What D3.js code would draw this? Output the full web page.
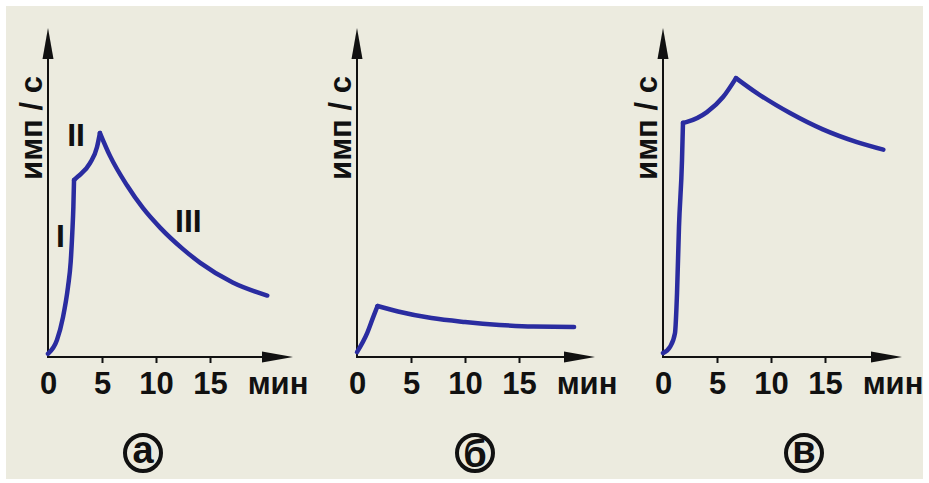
<!DOCTYPE html>
<html>
<head>
<meta charset="utf-8">
<script src="https://cdn.jsdelivr.net/npm/d3@7"></script>
<style>
  html, body { margin: 0; padding: 0; background: #fff; }
  text { font-family: "Liberation Sans", Arial, sans-serif; font-weight: bold; fill: #111; }
</style>
</head>
<body>
<div id="chart"></div>
<script>
// time in minutes, count rate in arbitrary units (0..100)
const riseA = [[0, 1], [0.83, 5.2], [1.39, 12.2], [1.85, 21.4], [2.1, 29], [2.25, 38], [2.35, 46], [2.41, 54.1]];
const climbA = [[2.41, 54.1], [2.78, 55.2], [3.89, 59.3], [4.54, 64.2], [4.81, 68.5]];
const decayA = [[4.81, 68.5], [5.74, 61.5], [7.31, 52.5], [8.8, 45.5], [10.4, 39.5], [12.5, 33.0], [14.1, 28.8], [17.1, 22.8], [20.3, 18.8]];

const riseB = [[0, 1.5], [0.94, 7.3], [1.5, 12.2], [1.9, 15.6]];
const decayB = [[1.9, 15.6], [3.8, 13.9], [6.9, 11.9], [10, 10.7], [13.2, 9.8], [16.3, 9.3], [20.1, 9.2]];

const riseC = [[0, 1.2], [0.65, 3.1], [1.11, 7.3], [1.3, 19.6], [1.48, 39.8], [1.76, 60.2], [1.85, 71.6]];
const climbC = [[1.85, 71.6], [2.22, 71.9], [4.07, 74.9], [5.56, 79.5], [6.76, 85.3]];
const decayC = [[6.76, 85.3], [8.7, 80.7], [11.76, 74.6], [14.8, 69.6], [17.96, 65.7], [20.4, 63.4]];

const xTicks = [0, 5, 10, 15];
const xUnit = "мин";
const yLabel = "имп / с";
const panelLetters = ["а", "б", "в"];
const phaseLabels = [["I", 1.16, 37.3], ["II", 2.6, 67.9], ["III", 13, 41.9]];

const curves = [[riseA, climbA, decayA], [riseB, decayB], [riseC, climbC, decayC]];

// layout
const width = 929, height = 483;
const panels = [
    { ox: 48, tip: 293, cx: 143 },
    { ox: 357, tip: 595, cx: 475 },
    { ox: 663, tip: 902, cx: 804 }
];
const baseY = 357, topY = 28, letterY = 453;

const svg = d3.select('#chart')
    .append('svg')
    .attr('width', width)
    .attr('height', height);

svg.append('rect')
    .attr('x', 6).attr('y', 6)
    .attr('width', width - 12).attr('height', height - 10)
    .attr('fill', '#ecebdf');

const y = d3.scaleLinear().domain([0, 100]).range([baseY, 30]);

panels.forEach((p, i) => {
    const x = d3.scaleLinear().domain([0, 20]).range([p.ox, p.ox + 216]);
    const g = svg.append('g');

    // axes with long narrow arrowheads
    g.append('line')
        .attr('x1', p.ox).attr('y1', baseY)
        .attr('x2', p.ox).attr('y2', topY + 20)
        .attr('stroke', '#111').attr('stroke-width', 2);
    g.append('path')
        .attr('d', `M${p.ox},${topY} L${p.ox - 5.5},${topY + 31} L${p.ox + 5.5},${topY + 31} Z`)
        .attr('fill', '#111');
    g.append('line')
        .attr('x1', p.ox - 1).attr('y1', baseY)
        .attr('x2', p.tip - 20).attr('y2', baseY)
        .attr('stroke', '#111').attr('stroke-width', 2);
    g.append('path')
        .attr('d', `M${p.tip},${baseY} L${p.tip - 31},${baseY - 5.5} L${p.tip - 31},${baseY + 5.5} Z`)
        .attr('fill', '#111');

    const xAxis = d3.axisBottom(x)
        .tickValues(xTicks)
        .tickSize(6)
        .tickPadding(9)
        .tickFormat(d3.format('d'));

    g.append('g')
        .attr('transform', `translate(0,${baseY})`)
        .style('color', '#111')
        .call(xAxis)
        .call(a => a.select('.domain').remove())
        .call(a => a.selectAll('.tick line').attr('stroke-width', 2).attr('opacity', d => d === 0 ? 0 : 1))
        .call(a => a.selectAll('.tick text').attr('font-size', 31));

    g.append('text')
        .attr('x', x(21.3))
        .attr('y', baseY + 15)
        .attr('dy', '0.71em')
        .attr('text-anchor', 'middle')
        .attr('font-size', 31)
        .text(xUnit);

    g.append('text')
        .attr('transform', `translate(${p.ox - 6},128) rotate(-90)`)
        .attr('text-anchor', 'middle')
        .attr('font-size', 31)
        .text(yLabel);

    // curve: each phase drawn smooth, corners kept sharp at joins
    const line = d3.line()
        .x(d => x(d[0]))
        .y(d => y(d[1]))
        .curve(d3.curveMonotoneX);

    g.selectAll('path.curve')
        .data(curves[i])
        .enter()
        .append('path')
        .attr('class', 'curve')
        .attr('d', line)
        .attr('fill', 'none')
        .attr('stroke', '#2a2ca0')
        .attr('stroke-width', 4.5)
        .attr('stroke-linecap', 'round')
        .attr('stroke-linejoin', 'round');

    if (i === 0) {
        g.selectAll('text.phase')
            .data(phaseLabels)
            .enter()
            .append('text')
            .attr('class', 'phase')
            .attr('x', d => x(d[1]))
            .attr('y', d => y(d[2]))
            .attr('dy', '0.36em')
            .attr('text-anchor', 'middle')
            .attr('font-size', 32)
            .text(d => d[0]);
    }

    // circled panel letter
    g.append('circle')
        .attr('cx', p.cx).attr('cy', letterY)
        .attr('r', 18)
        .attr('fill', 'none')
        .attr('stroke', '#111')
        .attr('stroke-width', 4);
    g.append('text')
        .attr('x', p.cx)
        .attr('y', letterY)
        .attr('dy', panelLetters[i] === 'б' ? '0.37em' : '0.27em')
        .attr('text-anchor', 'middle')
        .attr('font-size', 38)
        .text(panelLetters[i]);
});
</script>
</body>
</html>
